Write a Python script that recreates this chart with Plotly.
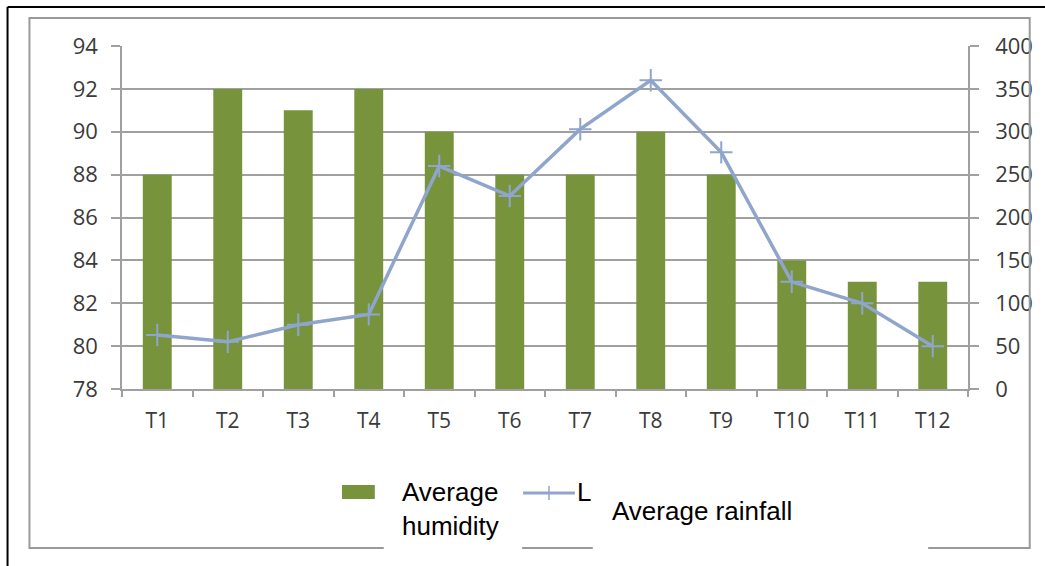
import plotly.graph_objects as go

# Monthly-period data
periods = ["T1", "T2", "T3", "T4", "T5", "T6", "T7", "T8", "T9", "T10", "T11", "T12"]
avg_humidity = [88, 92, 91, 92, 90, 88, 88, 90, 88, 84, 83, 83]
avg_rainfall = [63, 55, 75, 87, 260, 225, 303, 360, 276, 125, 100, 50]

humidity_ticks = [78, 80, 82, 84, 86, 88, 90, 92, 94]
rainfall_ticks = [0, 50, 100, 150, 200, 250, 300, 350, 400]

W, H = 1045, 566
ML, MR, MT, MB = 122, 73, 46, 177
PW, PH = W - ML - MR, H - MT - MB

BAR = "#77933C"
LINE = "#8FA5CB"
GRID = "#A0A0A0"
YTICKFONT = dict(family="Open Sans, sans-serif", size=22, color="#3A3A3A")
XTICKFONT = dict(family="Open Sans, sans-serif", size=21, color="#3A3A3A")
LEGFONT = dict(family="Liberation Sans, Arial, sans-serif", size=26, color="#000000")


def px_x(x):
    return (x - ML) / PW


def px_y(y):
    return (H - MB - y) / PH


fig = go.Figure()
fig.add_trace(go.Bar(
    x=periods, y=avg_humidity, name="Average humidity",
    marker=dict(color=BAR, line=dict(width=0)), width=0.41,
    yaxis="y", showlegend=False,
))
fig.add_trace(go.Scatter(
    x=periods, y=avg_rainfall, name="Average rainfall",
    mode="lines+markers", yaxis="y2",
    line=dict(color=LINE, width=3.5),
    marker=dict(symbol="cross-thin", size=16, line=dict(color=LINE, width=2)),
    showlegend=False,
))

fig.update_layout(
    width=W, height=H,
    margin=dict(l=ML, r=MR, t=MT, b=MB),
    paper_bgcolor="white", plot_bgcolor="white",
    xaxis=dict(
        type="category", showgrid=False, showline=True, linecolor=GRID, linewidth=1.5,
        ticks="outside", tickson="boundaries", ticklen=6, tickcolor=GRID, tickwidth=1.5,
        tickfont=XTICKFONT, ticklabelstandoff=12, range=[-0.5, 11.5],
    ),
    yaxis=dict(
        range=[78, 94], tickvals=humidity_ticks, showgrid=True, gridcolor=GRID, gridwidth=1.5,
        showline=True, linecolor=GRID, linewidth=1.5, ticks="outside", ticklen=9,
        tickcolor=GRID, tickwidth=1.5, tickfont=YTICKFONT, ticklabelstandoff=9, zeroline=False,
    ),
    yaxis2=dict(
        range=[0, 400], tickvals=rainfall_ticks, overlaying="y", side="right", showgrid=False,
        showline=True, linecolor=GRID, linewidth=1.5, ticks="outside", ticklen=9,
        tickcolor=GRID, tickwidth=1.5, tickfont=YTICKFONT, ticklabelstandoff=12, zeroline=False,
    ),
)

shapes = [
    # outer frame edges
    dict(type="line", xref="paper", yref="paper", x0=px_x(7), x1=px_x(W + 5), y0=px_y(7), y1=px_y(7),
         line=dict(color="black", width=2)),
    dict(type="line", xref="paper", yref="paper", x0=px_x(7), x1=px_x(7), y0=px_y(7), y1=px_y(H + 5),
         line=dict(color="black", width=2)),
    # chart area border
    dict(type="rect", xref="paper", yref="paper", x0=px_x(29), x1=px_x(1034), y0=px_y(548), y1=px_y(18),
         line=dict(color="#9A9A9A", width=2), fillcolor="rgba(0,0,0,0)"),
    # legend label panels
    dict(type="rect", xref="paper", yref="paper", x0=px_x(385), x1=px_x(524), y0=px_y(551), y1=px_y(472),
         line=dict(width=0), fillcolor="white"),
    dict(type="rect", xref="paper", yref="paper", x0=px_x(595), x1=px_x(932), y0=px_y(551), y1=px_y(488),
         line=dict(width=0), fillcolor="white"),
    # legend swatches
    dict(type="rect", xref="paper", yref="paper", x0=px_x(343), x1=px_x(376), y0=px_y(499), y1=px_y(485),
         line=dict(width=0), fillcolor=BAR),
    dict(type="line", xref="paper", yref="paper", x0=px_x(525), x1=px_x(577), y0=px_y(493), y1=px_y(493),
         line=dict(color=LINE, width=3)),
    dict(type="line", xref="paper", yref="paper", x0=px_x(551), x1=px_x(551), y0=px_y(486), y1=px_y(500),
         line=dict(color=LINE, width=1.5)),
]
fig.update_layout(shapes=shapes)

annotations = [
    dict(text="Average", x=px_x(401), y=px_y(492), xanchor="left", yanchor="middle"),
    dict(text="humidity", x=px_x(401), y=px_y(526), xanchor="left", yanchor="middle"),
    dict(text="L", x=px_x(577), y=px_y(492), xanchor="left", yanchor="middle"),
    dict(text="Average rainfall", x=px_x(612), y=px_y(511), xanchor="left", yanchor="middle"),
]
for a in annotations:
    a.update(xref="paper", yref="paper", showarrow=False, font=LEGFONT)
fig.update_layout(annotations=annotations)

fig.write_html("out.html")
